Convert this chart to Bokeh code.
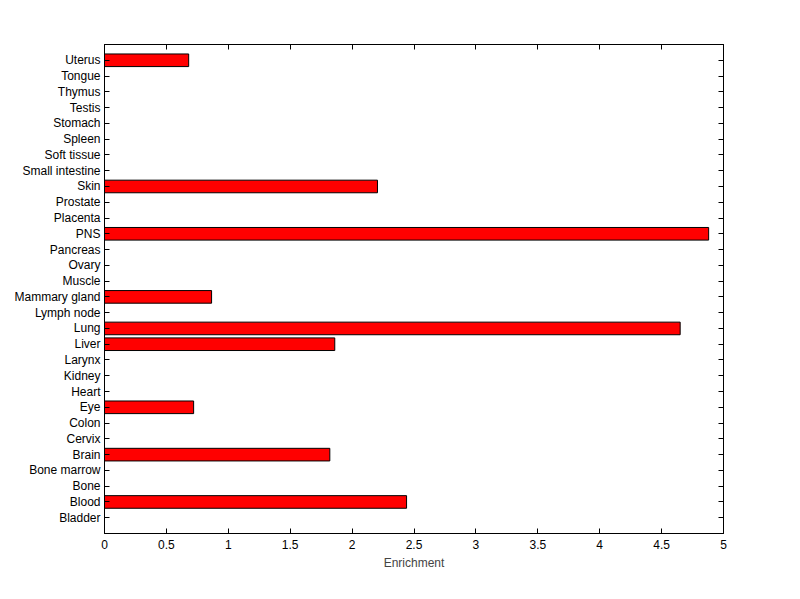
from bokeh.plotting import figure
from bokeh.models import Range1d, LinearAxis, FixedTicker, ColumnDataSource
from bokeh.embed import file_html
from bokeh.resources import INLINE

categories = ["Bladder", "Blood", "Bone", "Bone marrow", "Brain", "Cervix", "Colon", "Eye",
              "Heart", "Kidney", "Larynx", "Liver", "Lung", "Lymph node", "Mammary gland",
              "Muscle", "Ovary", "Pancreas", "PNS", "Placenta", "Prostate", "Skin",
              "Small intestine", "Soft tissue", "Spleen", "Stomach", "Testis", "Thymus",
              "Tongue", "Uterus"]
values = [0, 2.44, 0, 0, 1.82, 0, 0, 0.72,
          0, 0, 0, 1.86, 4.65, 0, 0.865,
          0, 0, 0, 4.88, 0, 0, 2.205,
          0, 0, 0, 0, 0, 0,
          0, 0.68]
x_ticks = [0, 0.5, 1, 1.5, 2, 2.5, 3, 3.5, 4, 4.5, 5]
x_tick_labels = ["0", "0.5", "1", "1.5", "2", "2.5", "3", "3.5", "4", "4.5", "5"]

n = len(categories)
ypos = list(range(1, n + 1))
src = ColumnDataSource(dict(y=ypos, v=values, cat=categories))

FONT = "Liberation Sans"

p = figure(frame_width=619, frame_height=489, output_backend="svg", toolbar_location=None,
           x_range=Range1d(0, 5), y_range=Range1d(0, n + 1),
           min_border_left=104, min_border_right=61, min_border_top=44, min_border_bottom=50,
           background_fill_color="white", border_fill_color="white")
p.outline_line_color = "black"
p.outline_line_width = 1
p.xgrid.visible = False
p.ygrid.visible = False

p.hbar(y="y", right="v", left=0, height=0.8, source=src,
       fill_color="#ff0000", line_color="black", line_width=1)

def style(ax):
    ax.axis_line_color = "black"
    ax.major_tick_line_color = "black"
    ax.major_tick_in = 5
    ax.major_tick_out = 0
    ax.minor_tick_line_color = None
    ax.major_label_text_font = FONT
    ax.major_label_text_font_size = "12px"
    ax.major_label_text_color = "black"

xa = p.xaxis[0]
xa.ticker = FixedTicker(ticks=x_ticks)
xa.major_label_overrides = {t: l for t, l in zip(x_ticks, x_tick_labels)}
xa.axis_label = "Enrichment"
xa.axis_label_text_font = FONT
xa.axis_label_text_font_size = "12px"
xa.axis_label_text_font_style = "normal"
xa.axis_label_standoff = 4
xa.major_label_standoff = 6
style(xa)

ya = p.yaxis[0]
ya.ticker = FixedTicker(ticks=ypos)
ya.major_label_overrides = {y: c for y, c in zip(ypos, categories)}
ya.major_label_standoff = 4
style(ya)

top = LinearAxis(ticker=FixedTicker(ticks=x_ticks),
                 major_label_overrides={t: "" for t in x_ticks})
style(top)
top.major_label_standoff = 0
p.add_layout(top, "above")

right = LinearAxis(ticker=FixedTicker(ticks=ypos),
                   major_label_overrides={y: "" for y in ypos})
style(right)
right.major_label_standoff = 0
p.add_layout(right, "right")

open("out.html", "w").write(file_html(p, INLINE))
